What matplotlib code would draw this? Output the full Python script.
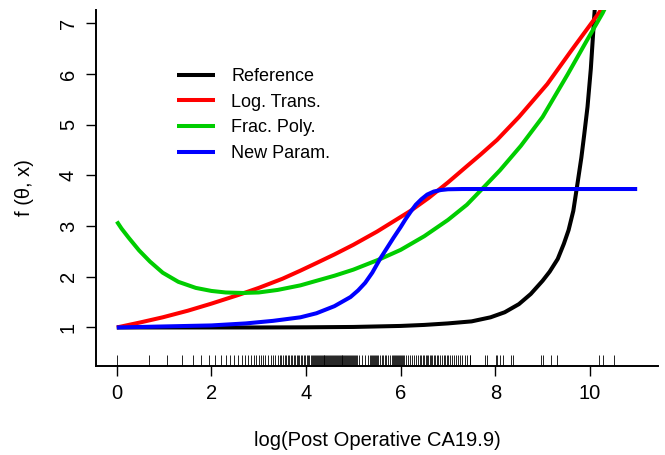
import matplotlib
matplotlib.use("Agg")
import matplotlib.pyplot as plt

plt.rcParams['font.family'] = ['Liberation Sans', 'DejaVu Sans']

# Fitted transformation curves f(theta, x)
ref_x = [0, 1, 2, 3, 4, 5, 6, 6.5, 7.0, 7.5, 7.9, 8.2, 8.5, 8.75, 9.0, 9.15,
         9.32, 9.45, 9.55, 9.65, 9.74, 9.82, 9.88, 9.95, 10.02, 10.09, 10.15]
ref_y = [1.0, 1.0, 1.0, 1.0, 1.003, 1.01, 1.03, 1.05, 1.08, 1.12, 1.2, 1.3,
         1.46, 1.66, 1.92, 2.1, 2.35, 2.65, 2.92, 3.3, 3.85, 4.35, 4.8, 5.35,
         6.1, 7.1, 7.9]

log_x = [0, 0.5, 0.97, 1.5, 2.0, 2.6, 3.0, 3.5, 3.88, 4.22, 4.6, 5.0, 5.5,
         6.21, 6.6, 7.0, 7.4, 7.69, 8.04, 8.5, 9.1, 9.6, 10.19, 10.4]
log_y = [1.0, 1.1, 1.2, 1.33, 1.47, 1.65, 1.78, 1.96, 2.12, 2.27, 2.44, 2.63,
         2.89, 3.30, 3.56, 3.86, 4.18, 4.41, 4.70, 5.15, 5.80, 6.45, 7.20,
         7.50]

fp_x = [0, 0.1, 0.25, 0.47, 0.7, 0.97, 1.3, 1.67, 2.0, 2.3, 2.66, 3.0, 3.4,
        3.88, 4.22, 4.6, 5.0, 5.57, 6.0, 6.5, 7.0, 7.4, 7.69, 8.1, 8.54, 9.0,
        9.53, 9.9, 10.27, 10.45]
fp_y = [3.09, 2.95, 2.77, 2.52, 2.30, 2.08, 1.90, 1.78, 1.72, 1.69, 1.68,
        1.69, 1.74, 1.83, 1.92, 2.02, 2.14, 2.35, 2.53, 2.80, 3.12, 3.42,
        3.70, 4.10, 4.58, 5.15, 5.99, 6.60, 7.20, 7.55]

np_x = [0, 1, 2, 2.73, 3.3, 3.88, 4.22, 4.6, 4.94, 5.1, 5.25, 5.4, 5.57, 5.7,
        5.85, 6.0, 6.1, 6.21, 6.32, 6.44, 6.56, 6.7, 6.85, 7.0, 7.3, 8, 11]
np_y = [1.0, 1.02, 1.04, 1.08, 1.13, 1.20, 1.28, 1.42, 1.60, 1.73, 1.88, 2.08,
        2.36, 2.55, 2.77, 2.98, 3.13, 3.28, 3.42, 3.53, 3.62, 3.68, 3.71,
        3.725, 3.73, 3.73, 3.73]

# Observed log(CA19.9) values shown as a rug
rug_x = [0.00, 0.69, 1.07, 1.38, 1.61, 1.79, 1.95, 2.08, 2.20, 2.30, 2.40,
         2.48, 2.56, 2.64, 2.71, 2.77, 2.83, 2.89, 2.94, 3.00, 3.05, 3.09,
         3.14, 3.19, 3.25, 3.30, 3.35, 3.40, 3.45, 3.48, 3.51, 3.55, 3.58,
         3.62, 3.64, 3.68, 3.71, 3.74, 3.77, 3.80, 3.83, 3.86, 3.89, 3.92,
         3.95, 3.98, 4.01, 4.04, 4.07, 4.10, 4.13, 4.15, 4.17, 4.19, 4.21,
         4.23, 4.25, 4.27, 4.29, 4.31, 4.33, 4.35, 4.37, 4.39, 4.41, 4.43,
         4.45, 4.47, 4.49, 4.51, 4.53, 4.55, 4.57, 4.59, 4.61, 4.63, 4.65,
         4.67, 4.69, 4.71, 4.73, 4.75, 4.77, 4.79, 4.81, 4.83, 4.85, 4.87,
         4.89, 4.91, 4.93, 4.95, 4.97, 4.99, 5.01, 5.03, 5.05, 5.07, 5.11,
         5.18, 5.25, 5.30, 5.36, 5.38, 5.40, 5.42, 5.44, 5.46, 5.48, 5.50,
         5.53, 5.57, 5.60, 5.63, 5.67, 5.70, 5.74, 5.77, 5.81, 5.84, 5.86,
         5.88, 5.90, 5.92, 5.94, 5.96, 5.98, 6.00, 6.02, 6.04, 6.08, 6.12,
         6.16, 6.20, 6.24, 6.28, 6.33, 6.37, 6.40, 6.44, 6.47, 6.50, 6.53,
         6.56, 6.58, 6.61, 6.64, 6.67, 6.70, 6.73, 6.76, 6.80, 6.84, 6.87,
         6.91, 6.94, 6.97, 7.01, 7.05, 7.09, 7.13, 7.17, 7.22, 7.26, 7.30,
         7.35, 7.40, 7.46, 7.47, 7.78, 7.83, 8.02, 8.04, 8.10, 8.16, 8.34,
         8.37, 8.97, 9.00, 9.18, 9.30, 10.20, 10.27, 10.51]

labels = ["Reference", "Log. Trans.", "Frac. Poly.", "New Param."]
colors = ["#000000", "#FF0000", "#00CD00", "#0000FF"]

fig = plt.figure(figsize=(6.65, 4.55), dpi=100)
ax = fig.add_axes([96 / 665, 1 - 366 / 455, 562 / 665, 356 / 455])

curves = [(ref_x, ref_y), (log_x, log_y), (fp_x, fp_y), (np_x, np_y)]
for (cx, cy), lab, col in zip(curves, labels, colors):
    ax.plot(cx, cy, color=col, lw=2.9, label=lab, solid_capstyle='butt',
            solid_joinstyle='round')

ax.vlines(rug_x, 0, 0.03, transform=ax.get_xaxis_transform(),
          color='black', lw=0.6)

ax.set_xlim(-0.44, 11.44)
ax.set_ylim(0.24, 7.26)
ax.set_xticks([0, 2, 4, 6, 8, 10])
ax.set_yticks([1, 2, 3, 4, 5, 6, 7])

for s in ['top', 'right']:
    ax.spines[s].set_visible(False)
for s in ['left', 'bottom']:
    ax.spines[s].set_linewidth(1.4)

ax.tick_params(direction='out', length=7, width=1.0, labelsize=14.5,
               pad=6)
ax.tick_params(axis='y', labelrotation=90)
for t in ax.get_yticklabels():
    t.set_va('center')

ax.set_xlabel("log(Post Operative CA19.9)", fontsize=14.5, labelpad=20)
ax.set_ylabel("f (θ, x)", fontsize=14.5, labelpad=18)

ax.legend(loc='upper left', bbox_to_anchor=(0.131, 0.857), frameon=False,
          fontsize=13, handlelength=2.1, handletextpad=0.9,
          labelspacing=0.48, borderaxespad=0)

fig.savefig("out.png", dpi=100)
